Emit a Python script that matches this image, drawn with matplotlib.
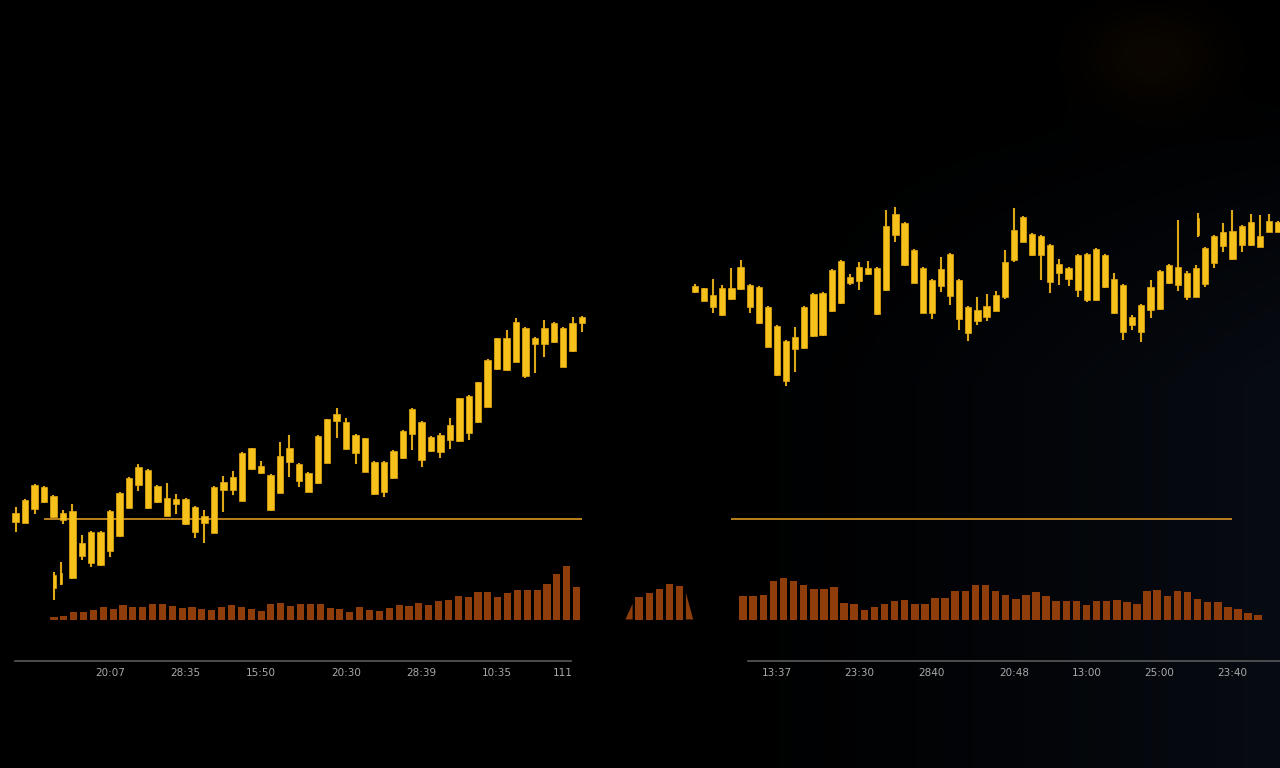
import numpy as np
import matplotlib.pyplot as plt

# ---------------- data ----------------
# left session candles (OHLC)
left_open = [99.73, 99.63, 101.0, 103.23, 102.3, 100.6, 100.83, 96.3, 95.6, 98.73,
             96.83, 98.3, 101.13, 103.4, 104.9, 103.3, 102.13, 101.5, 102.0, 101.2,
             99.63, 98.63, 102.9, 102.9, 101.83, 104.97, 105.3, 104.4, 102.63, 105.73,
             105.5, 104.6, 103.57, 105.63, 109.83, 109.73, 108.4, 108.07, 105.73, 102.73,
             104.07, 106.07, 108.47, 109.73, 106.8, 108.4, 107.9, 107.8, 112.33, 109.67,
             111.23, 114.97, 118.07, 115.73, 119.1, 117.47, 117.47, 117.67, 119.13, 116.8,
             119.57]
left_close = [100.63, 101.9, 103.4, 101.73, 100.23, 99.9, 94.1, 97.6, 98.73, 95.4,
              100.83, 102.63, 104.1, 105.23, 101.1, 101.73, 100.33, 102.0, 99.5, 98.73,
              100.3, 103.2, 103.7, 104.23, 106.63, 107.07, 104.6, 100.9, 106.3, 107.07,
              103.83, 102.73, 108.3, 109.97, 110.5, 106.97, 106.63, 104.73, 102.5, 105.73,
              106.8, 108.8, 111.0, 105.9, 108.23, 106.73, 109.4, 112.07, 108.57, 113.67,
              115.9, 118.07, 114.9, 119.73, 114.3, 118.13, 119.13, 119.57, 115.23, 119.57,
              120.17]
left_high = [101.2, 102.0, 103.5, 103.3, 102.4, 100.9, 101.5, 98.4, 98.8, 98.8,
             100.9, 102.7, 104.2, 105.5, 105.0, 103.4, 103.63, 102.5, 102.1, 101.3,
             100.9, 103.3, 104.3, 104.83, 106.7, 107.1, 105.83, 104.5, 107.73, 108.4,
             105.6, 104.7, 108.4, 110.0, 111.1, 110.1, 108.5, 108.1, 105.8, 105.8,
             106.9, 108.9, 111.1, 109.8, 108.3, 108.6, 110.1, 112.1, 112.4, 113.7,
             116.0, 118.1, 118.9, 120.1, 119.23, 118.23, 119.9, 119.7, 119.2, 120.23,
             120.3]
left_low = [98.7, 99.6, 100.5, 101.6, 100.1, 99.5, 94.0, 95.9, 95.2, 95.3,
            96.23, 98.2, 101.1, 102.8, 101.0, 101.6, 100.3, 100.5, 99.4, 98.1,
            97.63, 98.6, 100.7, 102.4, 101.8, 104.9, 104.5, 100.8, 102.6, 104.2,
            103.23, 102.7, 103.5, 105.6, 108.1, 106.9, 105.5, 104.7, 102.4, 102.2,
            104.0, 106.0, 106.9, 105.23, 106.7, 106.1, 107.0, 107.7, 107.9, 109.6,
            111.2, 114.9, 114.8, 115.7, 114.07, 114.57, 116.23, 117.6, 115.2, 116.7,
            118.73]
# two thin intrabar spikes in the early dip (time given in candle units)
left_spike_time = [4.1, 4.8]
left_spike_open = [94.4, 93.5]
left_spike_close = [93.1, 94.6]
left_spike_high = [94.7, 95.7]
left_spike_low = [91.9, 93.4]

# right session candles (OHLC)
right_open = [122.73, 123.07, 122.4, 120.4, 121.99, 122.97, 123.4, 123.17, 121.23, 119.3,
              117.83, 116.97, 117.07, 118.3, 122.63, 120.8, 121.57, 124.23, 123.8, 124.5,
              125.13, 122.9, 128.4, 129.63, 126.9, 125.13, 120.63, 123.3, 122.3, 123.9,
              121.23, 119.83, 120.23, 120.83, 122.2, 125.9, 127.73, 128.5, 128.3, 127.4,
              125.5, 124.0, 122.9, 126.47, 121.9, 126.4, 123.97, 123.4, 120.23, 118.73,
              120.9, 120.97, 123.57, 125.23, 124.63, 122.23, 123.5, 125.63, 127.3, 128.83,
              127.4, 127.4, 128.3, 128.73, 129.73]
right_close = [123.3, 121.83, 121.17, 123.07, 123.13, 125.23, 121.17, 119.57, 117.23, 114.4,
               113.8, 118.23, 121.23, 122.5, 118.4, 124.9, 125.83, 123.57, 125.23, 125.07,
               120.5, 129.3, 130.5, 125.4, 123.63, 120.63, 123.9, 124.97, 126.5, 119.97,
               118.63, 120.9, 121.3, 122.4, 125.7, 128.9, 130.17, 126.4, 126.4, 123.73,
               124.57, 125.07, 126.4, 121.9, 126.97, 123.17, 120.57, 118.73, 119.4, 121.4,
               123.17, 124.83, 125.4, 123.4, 122.23, 125.07, 127.07, 128.3, 128.73, 125.97,
               129.3, 129.73, 127.23, 129.83, 128.73]
right_high = [123.5, 123.1, 123.97, 123.4, 125.07, 125.9, 123.5, 123.3, 121.3, 119.4,
              117.9, 119.17, 121.3, 122.6, 122.7, 125.0, 125.9, 124.5, 125.73, 125.83,
              125.2, 130.9, 131.23, 129.7, 127.0, 125.2, 124.0, 126.23, 126.6, 124.0,
              121.3, 122.23, 122.47, 122.83, 126.9, 131.1, 130.3, 128.6, 128.4, 127.5,
              125.97, 125.2, 126.5, 126.6, 127.1, 126.5, 124.57, 123.5, 120.4, 121.5,
              123.9, 124.9, 125.5, 129.9, 124.8, 125.4, 127.2, 128.4, 129.63, 130.9,
              129.4, 130.5, 130.4, 130.5, 129.8]
right_low = [122.6, 121.8, 120.57, 120.3, 121.9, 122.9, 120.57, 119.5, 117.2, 114.3,
             113.3, 114.73, 117.0, 118.2, 118.3, 120.7, 121.5, 123.4, 122.9, 124.4,
             120.4, 122.8, 127.73, 125.3, 123.6, 120.6, 119.97, 122.73, 121.4, 118.9,
             117.83, 119.4, 119.83, 120.8, 121.97, 125.7, 127.7, 126.3, 123.9, 122.57,
             123.4, 123.3, 122.23, 121.7, 121.8, 123.1, 120.5, 117.9, 118.9, 117.73,
             120.07, 120.9, 123.5, 122.83, 121.9, 122.2, 123.17, 125.07, 126.73, 125.9,
             126.73, 127.3, 127.2, 128.7, 128.7]
right_spike_time = [55.2]
right_spike_open = [128.4]
right_spike_close = [130.1]
right_spike_high = [130.6]
right_spike_low = [128.2]

# volume
left_volume = [3.0, 4.0, 8.0, 7.3, 9.7, 13.0, 11.0, 14.3, 13.0, 13.0,
               15.7, 15.7, 13.3, 11.3, 12.7, 10.7, 10.0, 13.0, 15.0, 13.0,
               11.0, 9.0, 16.0, 17.0, 13.3, 15.3, 15.3, 15.3, 11.7, 10.3,
               8.0, 12.7, 10.0, 9.0, 11.7, 14.3, 13.3, 16.3, 15.0, 19.0,
               19.3, 23.7, 23.0, 27.3, 27.3, 22.3, 26.7, 29.3, 29.3, 30.0,
               35.7, 45.7, 54.0, 33.0]
gap_volume = [15.7, 23.0, 26.7, 30.7, 35.7, 34.0, 26.7]
right_volume = [23.3, 23.3, 25.0, 38.3, 41.7, 39.0, 34.7, 30.7, 30.7, 32.3,
                16.3, 15.7, 10.0, 13.0, 15.7, 19.0, 20.0, 15.7, 15.7, 21.7,
                21.7, 29.0, 29.0, 34.7, 34.7, 29.0, 25.0, 20.7, 24.7, 28.0,
                23.7, 18.3, 18.3, 19.0, 15.0, 19.0, 19.0, 19.7, 18.0, 15.7,
                29.0, 29.7, 24.0, 28.3, 27.3, 20.7, 18.0, 17.3, 12.3, 10.7,
                6.7, 5.0]

support_level = 100.0
left_support_span = (3, 60)
right_support_span = (4, 59)

left_ticks = [10, 18, 26, 35, 43, 51, 58]
left_tick_labels = ["20:07", "28:35", "15:50", "20:30", "28:39", "10:35", "111"]
right_ticks = [9, 18, 26, 35, 43, 51, 59]
right_tick_labels = ["13:37", "23:30", "2840", "20:48", "13:00", "25:00", "23:40"]

# ---------------- layout / style ----------------
W, H = 1280, 768
PRICE_TOP = 151.9          # price at the top edge
PX_PER_PRICE = 10.0
AXIS_PRICE = 85.8          # where the time axis line sits
VOL_BASE_PX = 619.5

BODY = '#f5c11a'
EDGE = '#e9ab14'
WICK = '#dca817'
VOL = '#8f3d0b'
LINE = '#c98a20'
AXIS = '#5a5a5a'
LABEL = '#a9a9a9'


def map_x(ax, x0, dx):
    # x0 = pixel of index 0, dx = pixels per step
    ax.set_xlim(-x0 / dx, (W - x0) / dx)


def new_axes(fig):
    ax = fig.add_axes([0, 0, 1, 1])
    ax.set_facecolor('none')
    for s in ax.spines.values():
        s.set_visible(False)
    ax.set_yticks([])
    ax.set_xticks([])
    return ax


def draw_candles(ax, pos, o, h, l, c, width):
    o, h, l, c = map(np.asarray, (o, h, l, c))
    lo = np.minimum(o, c)
    hi = np.maximum(o, c)
    ax.vlines(pos, l, h, color=WICK, lw=1.5, zorder=2)
    ax.bar(pos, np.maximum(hi - lo, 0.2), bottom=lo, width=width,
           color=BODY, edgecolor=EDGE, lw=0.5, zorder=3)


fig = plt.figure(figsize=(W / 100, H / 100), dpi=100)
fig.patch.set_facecolor('black')

# faint background tint
bg = fig.add_axes([0, 0, 1, 1])
yy, xx = np.mgrid[0:H:4, 0:W:4]
navy = np.clip((xx - 650) / 630, 0, 1) ** 1.5 * np.clip((yy - 80) / 300, 0, 1)
glow = np.exp(-(((xx - 1150) / 70) ** 2 + ((yy - 55) / 50) ** 2))
img = navy[..., None] * np.array([7, 11, 19]) / 255 + glow[..., None] * np.array([11, 6, 1]) / 255
bg.imshow(np.clip(img, 0, 1), extent=[0, W, H, 0], aspect='auto', interpolation='bilinear')
bg.axis('off')

# volume panels
vol_left = new_axes(fig)
map_x(vol_left, 54, 9.86)
vol_left.set_ylim(-(H - VOL_BASE_PX), VOL_BASE_PX)
vol_left.bar(np.arange(len(left_volume)), left_volume, width=0.72, color=VOL)

vol_right = new_axes(fig)
map_x(vol_right, 743.1, 10.1)
vol_right.set_ylim(-(H - VOL_BASE_PX), VOL_BASE_PX)
vol_right.bar(np.arange(len(right_volume)), right_volume, width=0.74, color=VOL)
gap_pos = np.arange(len(gap_volume)) - 11.3
vol_right.bar(gap_pos[1:-1], gap_volume[1:-1], width=0.72, color=VOL)
hw = 0.36
vol_right.fill([gap_pos[0] - hw, gap_pos[0] + hw, gap_pos[0] + hw],
               [0, gap_volume[0], 0], color=VOL, lw=0)
vol_right.fill([gap_pos[-1] - hw, gap_pos[-1] - hw, gap_pos[-1] + hw],
               [0, gap_volume[-1], 0], color=VOL, lw=0)

# price panels
panels = [
    (15.7, 9.44, (left_open, left_high, left_low, left_close),
     (left_spike_time, left_spike_open, left_spike_high, left_spike_low, left_spike_close),
     left_support_span, left_ticks, left_tick_labels, (15, 571)),
    (695.0, 9.11, (right_open, right_high, right_low, right_close),
     (right_spike_time, right_spike_open, right_spike_high, right_spike_low, right_spike_close),
     right_support_span, right_ticks, right_tick_labels, (748, 1280)),
]
for x0, dx, ohlc, spikes, span, ticks, labels, axis_px in panels:
    ax = new_axes(fig)
    map_x(ax, x0, dx)
    ax.set_ylim(PRICE_TOP - H / PX_PER_PRICE, PRICE_TOP)

    ax.hlines(support_level, span[0], span[1], color=LINE, lw=1.3, zorder=1)
    o, h, l, c = ohlc
    draw_candles(ax, np.arange(len(o)), o, h, l, c, 0.68)
    t, so, sh, sl, sc = spikes
    draw_candles(ax, t, so, sh, sl, sc, 0.3)

    sp = ax.spines['bottom']
    sp.set_visible(True)
    sp.set_position(('data', AXIS_PRICE))
    sp.set_bounds((axis_px[0] - x0) / dx, (axis_px[1] - x0) / dx)
    sp.set_color(AXIS)
    sp.set_linewidth(1.2)
    ax.set_xticks(ticks)
    ax.set_xticklabels(labels)
    ax.tick_params(axis='x', length=0, pad=5, labelsize=7.5, colors=LABEL)

fig.savefig('out.png', dpi=100, facecolor='black')
